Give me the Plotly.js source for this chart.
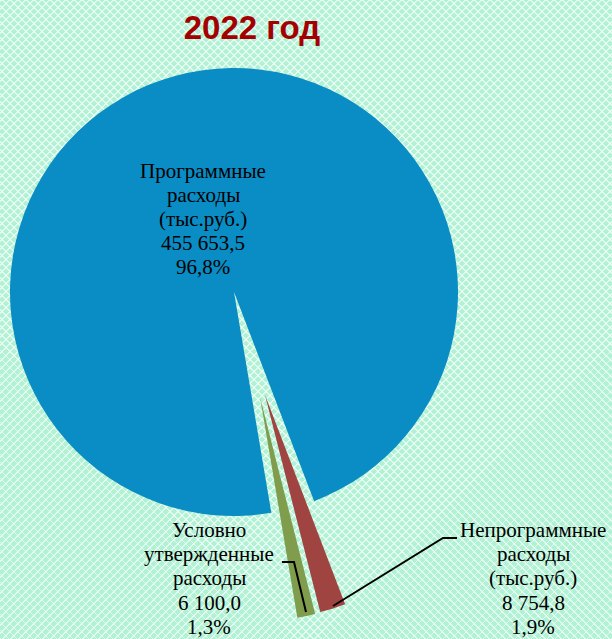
<!DOCTYPE html>
<html>
<head>
<meta charset="utf-8">
<script src="https://cdn.plot.ly/plotly-3.0.1.min.js"></script>
<style>
  html, body { margin: 0; padding: 0; }
  body {
    background-color: #b0f2d3;
    background-image:
      repeating-linear-gradient(45deg, rgba(255,255,255,0.65) 0px, rgba(255,255,255,0.65) 1.3px, rgba(255,255,255,0) 1.3px, rgba(255,255,255,0) 5.66px),
      repeating-linear-gradient(-45deg, rgba(255,255,255,0.65) 0px, rgba(255,255,255,0.65) 1.3px, rgba(255,255,255,0) 1.3px, rgba(255,255,255,0) 5.66px);
  }
  #chart { width: 612px; height: 639px; }
  #chart .annotation-text, #chart .annotation-text tspan { font-family: 'Liberation Serif' !important; }
</style>
</head>
<body>
<div id="chart"></div>
<script>
// ---- data ----
const categories = ['Программные расходы (тыс.руб.)', 'Непрограммные расходы (тыс.руб.)', 'Условно утвержденные расходы'];
const values = [455653.5, 8754.8, 6100.0];
const labelLines = [
  ['Программные', 'расходы', '(тыс.руб.)'],
  ['Непрограммные', 'расходы', '(тыс.руб.)'],
  ['Условно', 'утвержденные', 'расходы']
];
const sliceColors = ['#0A8DC5', '#A04442', '#7F9D4C'];
const chartTitle = '2022 год';

// ---- helpers ----
const W = 612, H = 639;
function fmtNum(v) {
  const parts = v.toFixed(1).split('.');
  const intPart = parts[0].replace(/\B(?=(\d{3})+(?!\d))/g, ' ');
  return intPart + ',' + parts[1];
}
const total = values.reduce((a, b) => a + b, 0);
function fmtPct(v) { return (v / total * 100).toFixed(1).replace('.', ',') + '%'; }
function domainAt(cx, cy, r) {
  return { x: [(cx - r) / W, (cx + r) / W], y: [1 - (cy + r) / H, 1 - (cy - r) / H] };
}
const px = x => x / W;
const py = y => 1 - y / H;

// layout geometry (pixels): pie centres – main pie and the two exploded slices
const R = 224;
const centres = [[234, 292], [265, 395], [260, 397]];

const traces = centres.map((c, k) => ({
  type: 'pie',
  values: values,
  labels: categories,
  sort: false,
  direction: 'clockwise',
  rotation: 170.4,
  domain: domainAt(c[0], c[1], R),
  marker: {
    colors: sliceColors.map((col, i) => i === k ? col : 'rgba(0,0,0,0)'),
    line: { width: 0 }
  },
  textinfo: 'none',
  hoverinfo: 'skip',
  showlegend: false
}));

// label positions (pixels): centre x, first baseline, line step
const labelPos = [[203, 178, 24], [533, 537, 24.2], [209, 537, 24.2]];
const annotations = [];
values.forEach((v, i) => {
  const lines = labelLines[i].concat([fmtNum(v), fmtPct(v)]);
  const [lx, ly, step] = labelPos[i];
  lines.forEach((t, j) => {
    annotations.push({
      xref: 'paper', yref: 'paper',
      x: px(lx), y: py(ly + j * step - 7),
      xanchor: 'center', yanchor: 'middle',
      text: t, showarrow: false,
      font: { family: 'Liberation Serif', size: 21, color: '#000000' }
    });
  });
});

const shapes = [
  { type: 'path', xref: 'paper', yref: 'paper',
    path: `M ${px(282)},${py(562)} L ${px(294)},${py(562)} L ${px(306)},${py(612)}`,
    line: { color: '#000000', width: 2 } },
  { type: 'path', xref: 'paper', yref: 'paper',
    path: `M ${px(457)},${py(538)} L ${px(443)},${py(538)} L ${px(333)},${py(606)}`,
    line: { color: '#000000', width: 2 } }
];

const layout = {
  width: W, height: H,
  margin: { l: 0, r: 0, t: 0, b: 0 },
  paper_bgcolor: 'rgba(0,0,0,0)',
  plot_bgcolor: 'rgba(0,0,0,0)',
  title: {
    text: '<b>' + chartTitle + '</b>',
    font: { family: 'Liberation Sans', size: 33, color: '#A50000' },
    xref: 'paper', x: px(252), xanchor: 'center',
    yref: 'container', y: py(27.5), yanchor: 'middle'
  },
  annotations: annotations,
  shapes: shapes,
  showlegend: false
};

function forceSerif() {
  document.querySelectorAll('#chart .annotation-text').forEach(el => {
    el.style.setProperty('font-family', "'Liberation Serif'", 'important');
  });
}
Plotly.newPlot('chart', traces, layout, { displayModeBar: false }).then(gd => {
  forceSerif();
  gd.on('plotly_afterplot', forceSerif);
});
</script>
</body>
</html>
